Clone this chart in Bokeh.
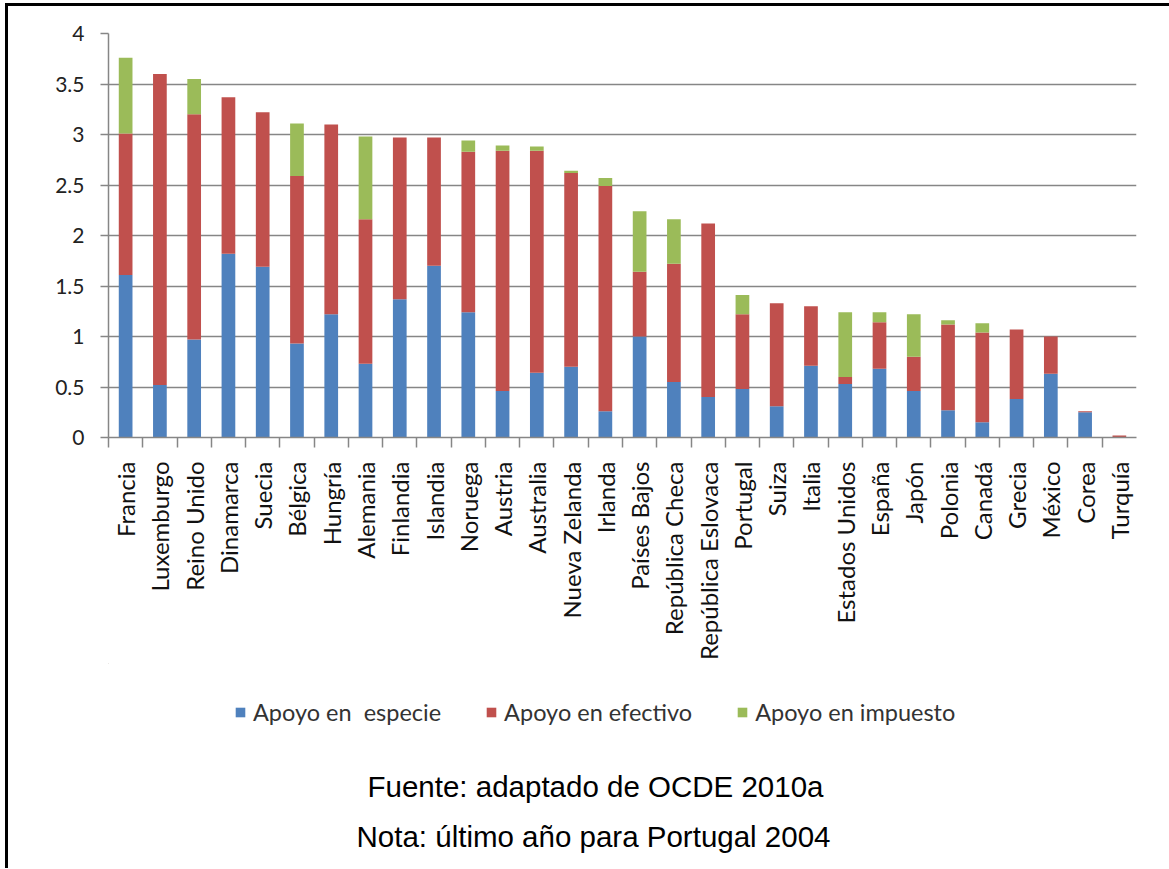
from math import pi
from bokeh.plotting import figure
from bokeh.layouts import column
from bokeh.models import (ColumnDataSource, FixedTicker, Legend, LegendItem, Label, Range1d)
from bokeh.embed import file_html
from bokeh.resources import INLINE

countries = ["Francia", "Luxemburgo", "Reino Unido", "Dinamarca", "Suecia", "Bélgica",
             "Hungría", "Alemania", "Finlandia", "Islandia", "Noruega", "Austria",
             "Australia", "Nueva Zelanda", "Irlanda", "Países Bajos", "República Checa",
             "República Eslovaca", "Portugal", "Suiza", "Italia", "Estados Unidos",
             "España", "Japón", "Polonia", "Canadá", "Grecia", "México", "Corea", "Turquía"]
especie = [1.61, 0.52, 0.97, 1.82, 1.69, 0.93, 1.22, 0.73, 1.37, 1.70, 1.24, 0.46,
           0.64, 0.70, 0.26, 1.00, 0.55, 0.40, 0.48, 0.31, 0.71, 0.53,
           0.68, 0.46, 0.27, 0.15, 0.38, 0.63, 0.25, 0.00]
efectivo = [1.40, 3.08, 2.23, 1.55, 1.53, 1.66, 1.88, 1.43, 1.60, 1.27, 1.59, 2.38,
            2.20, 1.92, 2.23, 0.64, 1.17, 1.72, 0.74, 1.02, 0.59, 0.07,
            0.46, 0.34, 0.85, 0.89, 0.69, 0.37, 0.01, 0.02]
impuesto = [0.75, 0.00, 0.35, 0.00, 0.00, 0.52, 0.00, 0.82, 0.00, 0.00, 0.11, 0.05,
            0.04, 0.02, 0.08, 0.60, 0.44, 0.00, 0.19, 0.00, 0.00, 0.64,
            0.10, 0.42, 0.04, 0.09, 0.00, 0.00, 0.00, 0.00]
series_names = ["Apoyo en  especie", "Apoyo en efectivo", "Apoyo en impuesto"]
series_colors = ["#4F81BD", "#C0504D", "#9BBB59"]
y_ticks = [0, 0.5, 1, 1.5, 2, 2.5, 3, 3.5, 4]
y_tick_labels = ["0", "0.5", "1", "1.5", "2", "2.5", "3", "3.5", "4"]
source_note = "Fuente: adaptado de OCDE 2010a"
year_note = "Nota: último año para Portugal 2004"

n = len(countries)
src = ColumnDataSource(dict(x=list(range(n)), especie=especie,
                            efectivo=efectivo, impuesto=impuesto))

# ---------- main chart ----------
p = figure(frame_width=1028, frame_height=404, x_range=(-0.5, n - 0.5), y_range=(0, 4),
           output_backend="svg", toolbar_location=None,
           min_border_left=100, min_border_right=33, min_border_top=27,
           min_border_bottom=0, outline_line_color=None)

rs = p.vbar_stack(["especie", "efectivo", "impuesto"], x="x", width=0.4,
                  fill_color=series_colors, line_color=None, source=src)

GRAY = "#868686"
p.yaxis.ticker = FixedTicker(ticks=y_ticks)
p.yaxis.major_label_overrides = {t: l for t, l in zip(y_ticks, y_tick_labels)}
p.yaxis.axis_line_color = GRAY
p.yaxis.axis_line_width = 1.5
p.yaxis.major_tick_line_color = GRAY
p.yaxis.major_tick_line_width = 1.5
p.yaxis.major_tick_in = 0
p.yaxis.major_tick_out = 8
p.yaxis.minor_tick_line_color = None
p.yaxis.major_label_standoff = 16
p.yaxis.major_label_text_font = "Lato"
p.yaxis.major_label_text_font_size = "21px"
p.yaxis.major_label_text_color = "#222222"

p.xaxis.ticker = FixedTicker(ticks=list(range(n)),
                             minor_ticks=[i - 0.5 for i in range(n)])
p.xaxis.major_label_overrides = {i: c for i, c in enumerate(countries)}
p.xaxis.major_label_orientation = pi / 2
p.xaxis.axis_line_color = GRAY
p.xaxis.axis_line_width = 1.5
p.xaxis.major_tick_line_color = None
p.xaxis.major_tick_in = 0
p.xaxis.major_tick_out = 0
p.xaxis.minor_tick_line_color = GRAY
p.xaxis.minor_tick_line_width = 1.5
p.xaxis.minor_tick_in = 0
p.xaxis.minor_tick_out = 10
p.xaxis.major_label_standoff = 14
p.xaxis.major_label_text_font = "Lato"
p.xaxis.major_label_text_font_size = "24px"
p.xaxis.major_label_text_color = "#111111"

p.xgrid.visible = False
p.ygrid.grid_line_color = GRAY
p.ygrid.grid_line_width = 1.5

# ---------- legend + notes (lower panel; its frame aligns with the chart frame) ----------
TOP2 = 664          # page y where the lower panel starts
BOTTOM2 = 869
H2 = BOTTOM2 - TOP2
q = figure(frame_width=1028, frame_height=H2, x_range=Range1d(108, 1136),
           y_range=Range1d(H2, 0),
           output_backend="svg", toolbar_location=None, min_border=0,
           min_border_left=100, min_border_right=33,
           x_axis_location=None, y_axis_location=None, outline_line_color=None)
q.grid.visible = False
# legend-only renderers, placed far outside the visible area
dummies = [q.vbar(x=[-5000], top=[-5000], bottom=[-5001], width=1,
                  fill_color=c, line_color=None)
           for c in series_colors]
legend = Legend(items=[LegendItem(label=nm, renderers=[r]) for nm, r in zip(series_names, dummies)],
                orientation="horizontal", location=(126, BOTTOM2 - 727),
                border_line_color=None, background_fill_alpha=0,
                label_text_font="Lato", label_text_font_size="23.5px",
                label_text_color="#333333",
                glyph_width=12, glyph_height=12, label_standoff=7, spacing=44,
                margin=0, padding=0)
q.add_layout(legend, "center")
for txt, cx, cy in [(source_note, 595, 787), (year_note, 593, 837)]:
    q.add_layout(Label(x=cx, y=cy - TOP2, text=txt, text_align="center",
                       text_baseline="middle",
                       text_font="Liberation Sans", text_font_size="29.5px",
                       text_color="#000000"))

layout = column(p, q, spacing=0, margin=(3, 0, 0, 5),
                styles={"border-left": "3px solid black", "border-top": "3px solid black"})

open("out.html", "w").write(file_html(layout, INLINE))
